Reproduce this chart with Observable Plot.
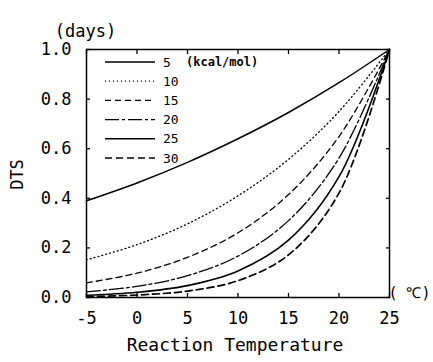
<!DOCTYPE html>
<html><head><meta charset="utf-8">
<script src="https://cdn.jsdelivr.net/npm/d3@7"></script>
<script src="https://cdn.jsdelivr.net/npm/@observablehq/plot@0.6"></script>
<style>
body{margin:0;background:#fff}
#wrap{position:relative;width:433px;height:362px}
#wrap svg{position:absolute;left:0;top:0}
</style>
</head><body><div id="wrap"></div>
<script>
// Reaction temperature (°C)
const temps = [-5, 0, 5, 10, 15, 20, 25];
// Activation energies (kcal/mol)
const energies = [5, 10, 15, 20, 25, 30];
// DTS (days)
const dts5  = [0.39, 0.462, 0.545, 0.64, 0.746, 0.866, 1.0];
const dts10 = [0.152, 0.213, 0.297, 0.41, 0.557, 0.75, 1.0];
const dts15 = [0.059, 0.098, 0.162, 0.261, 0.415, 0.649, 1.0];
const dts20 = [0.023, 0.045, 0.088, 0.167, 0.31, 0.562, 1.0];
const dts25 = [0.009, 0.021, 0.048, 0.107, 0.231, 0.487, 1.0];
const dts30 = [0.004, 0.010, 0.026, 0.068, 0.172, 0.421, 1.0];
const xTicks = [-5, 0, 5, 10, 15, 20, 25];
const yTicks = [0, 0.2, 0.4, 0.6, 0.8, 1.0];
const yUnit = "(days)";
const yTitle = "DTS";
const xTitle = "Reaction Temperature";
const xUnit = "( ℃)";
const legendUnit = "(kcal/mol)";

const series = [dts5, dts10, dts15, dts20, dts25, dts30];
const rows = energies.flatMap((e, i) => temps.map((t, j) => ({e, t, v: series[i][j]})));
const styles = {
  5:  {dash: null, w: 1.5},
  10: {dash: "1,3", w: 1.3},
  15: {dash: "6,4", w: 1.3},
  20: {dash: "14,3,3,3", w: 1.3},
  25: {dash: null, w: 1.6},
  30: {dash: "7,4", w: 1.7}
};
const font = "'DejaVu Sans Mono', monospace";

const W = 433, H = 362;
const plot = Plot.plot({
  width: W, height: H,
  marginLeft: 86, marginRight: 44, marginTop: 49, marginBottom: 65,
  style: {fontFamily: font, color: "#000", background: "#fff", overflow: "visible"},
  x: {domain: [-5, 25]},
  y: {domain: [0, 1]},
  marks: [
    ...energies.map(e => Plot.line(rows.filter(r => r.e === e), {
      x: "t", y: "v", curve: "catmull-rom", stroke: "#000",
      strokeWidth: styles[e].w, strokeDasharray: styles[e].dash
    })),
    Plot.frame({stroke: "#000", strokeWidth: 1.5}),
    Plot.axisX({anchor: "bottom", ticks: xTicks, tickSize: -4, tickFormat: () => "", label: null, strokeWidth: 1.3}),
    Plot.axisX({anchor: "top", ticks: xTicks, tickSize: -4, tickFormat: () => "", label: null, strokeWidth: 1.3}),
    Plot.axisY({anchor: "left", ticks: yTicks, tickSize: -4, tickFormat: () => "", label: null, strokeWidth: 1.3}),
    Plot.axisY({anchor: "right", ticks: yTicks, tickSize: -4, tickFormat: () => "", label: null, strokeWidth: 1.3}),
    Plot.axisX({anchor: "bottom", ticks: xTicks, tickSize: 0, tickPadding: 14, label: null, fontSize: 17, tickFormat: d => d}),
    Plot.axisY({anchor: "left", ticks: yTicks, tickSize: 0, tickPadding: 15, label: null, fontSize: 17, tickFormat: d3.format(".1f")}),
    Plot.text([yUnit], {frameAnchor: "top-left", dx: -1, dy: -25, fontSize: 17, textAnchor: "middle"}),
    Plot.text([yTitle], {frameAnchor: "left", dx: -69, dy: 1, rotate: -90, fontSize: 17, textAnchor: "middle"}),
    Plot.text([xTitle], {frameAnchor: "bottom", dx: -3, dy: 53, fontSize: 18, textAnchor: "middle"}),
    Plot.text([xUnit], {frameAnchor: "bottom-right", dx: 41, dy: 0, fontSize: 15, textAnchor: "end"})
  ]
});
const wrap = document.getElementById("wrap");
wrap.appendChild(plot);

// Legend overlay
const leg = d3.select(wrap).append("svg").attr("width", W).attr("height", H)
  .style("font-family", font).style("pointer-events", "none");
const lx0 = 105, lx1 = 155, ltx = 163, ly0 = 62, lstep = 19.2;
energies.forEach((e, i) => {
  const y = ly0 + i * lstep;
  leg.append("line").attr("x1", lx0).attr("x2", lx1).attr("y1", y).attr("y2", y)
    .attr("stroke", "#000").attr("stroke-width", styles[e].w)
    .attr("stroke-dasharray", styles[e].dash);
  leg.append("text").attr("x", ltx).attr("y", y).attr("dy", "0.35em")
    .attr("font-size", 13).text(e);
});
leg.append("text").attr("x", 186).attr("y", ly0).attr("dy", "0.35em")
  .attr("font-size", 12).attr("font-weight", "bold").text(legendUnit);
</script>
</body></html>
